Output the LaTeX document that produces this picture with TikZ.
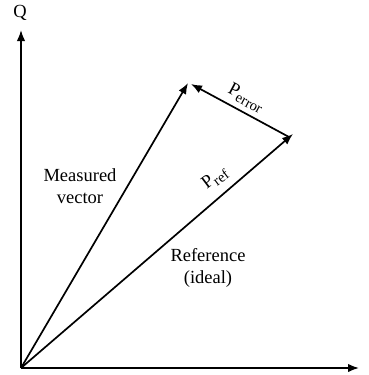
\documentclass[tikz,border=0pt]{standalone}
\usepackage{fontspec}
\setmainfont{Liberation Serif}
\usetikzlibrary{arrows.meta}
\begin{document}
\begin{tikzpicture}[x=1pt,y=-1pt,
  vec/.style={line width=1.7pt,-{Latex[length=11pt,width=8.5pt]}},
  lbl/.style={font=\fontsize{18.5}{22}\selectfont,inner sep=0pt,align=center}]
\useasboundingbox (0,0) rectangle (369,375);
\coordinate (O) at (21,368);
\coordinate (Qtip) at (21,30);
\coordinate (Xtip) at (359,368);
\coordinate (M) at (188,83);
\coordinate (R) at (293,134);
\coordinate (Rs) at (289,137);
\coordinate (Me) at (191,84);
\draw[vec] (O) -- (Qtip);
\draw[vec] (O) -- (Xtip);
\draw[vec] (O) -- (M);
\draw[vec] (O) -- (R);
\draw[vec] (Rs) -- (Me);
\node[lbl] (qlab) at (20,13) {Q};
\node[lbl] (mlab) at (80,186) {Measured\\vector};
\node[lbl] (rlab) at (208,268) {Reference\\(ideal)};
\node[lbl,rotate=37] (preflab) at (215,178) {P\raisebox{-4pt}{\fontsize{14.5}{16}\selectfont ref}};
\node[lbl,rotate=-28] (perrlab) at (246,98) {P\raisebox{-4pt}{\fontsize{14.5}{16}\selectfont error}};
\end{tikzpicture}
\end{document}
